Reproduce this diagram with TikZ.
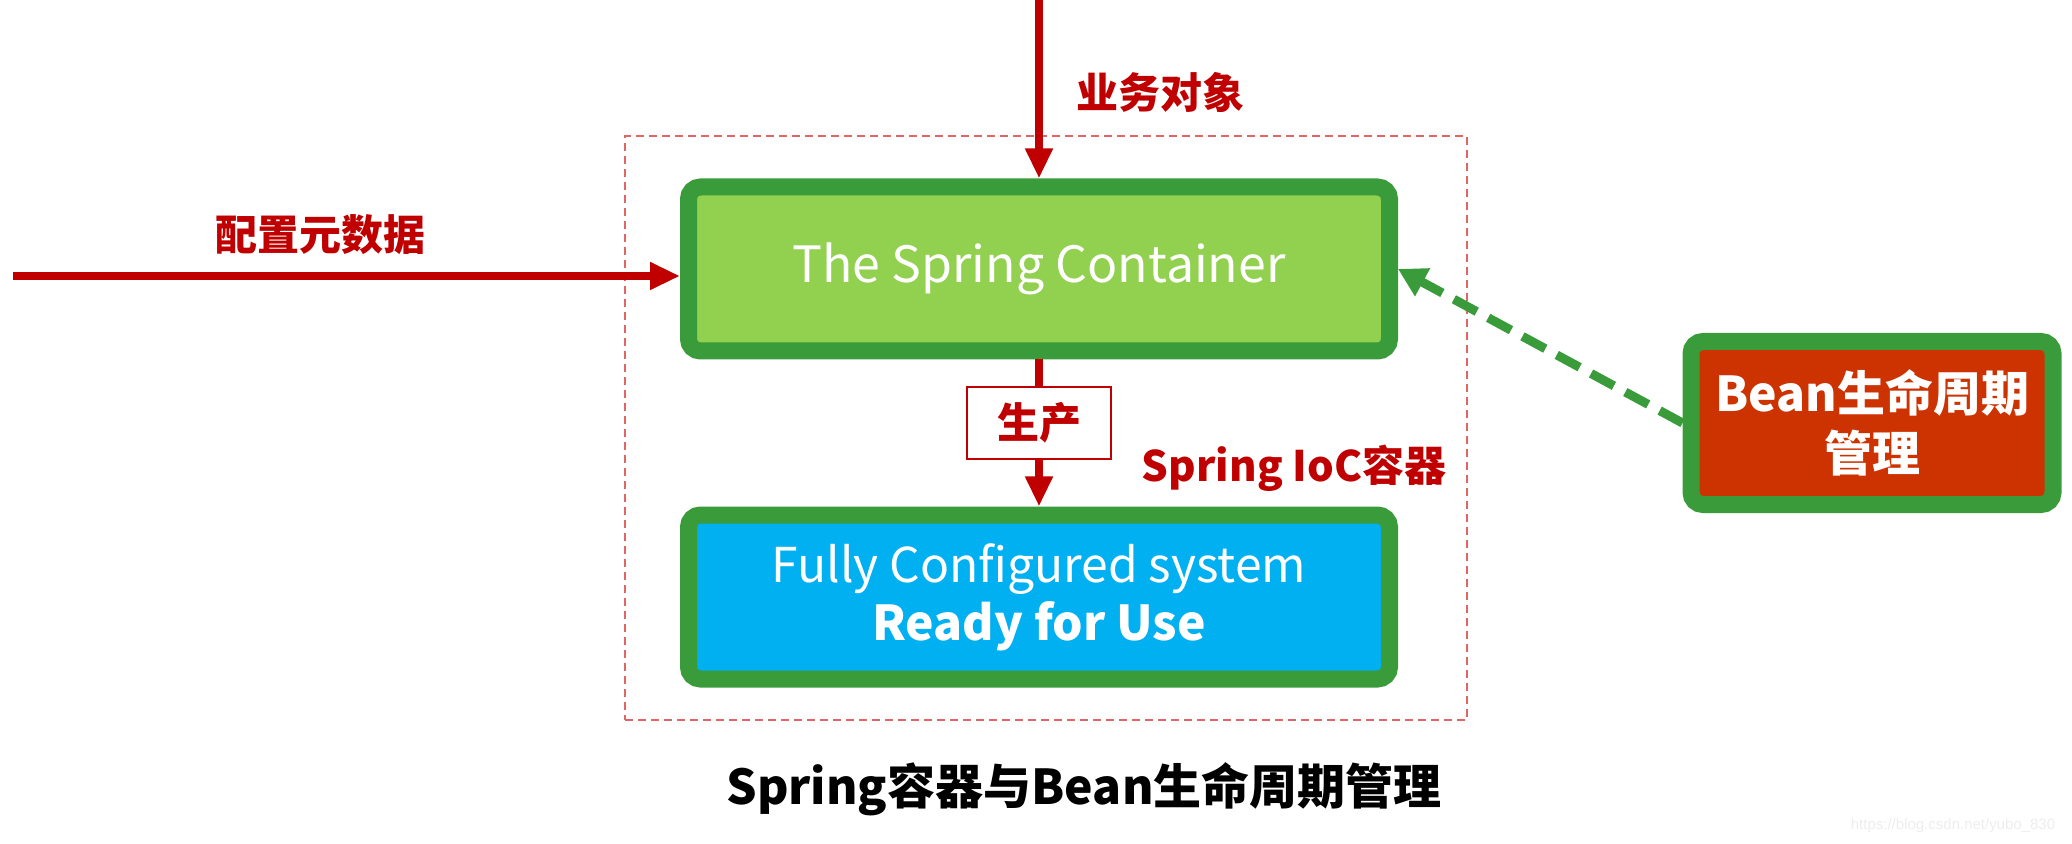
\documentclass[tikz,border=0pt]{standalone}
\usepackage{fontspec}
\setmainfont{Noto Sans CJK SC}
\newfontfamily\urlfont{Liberation Sans}
\usetikzlibrary{arrows.meta}

\definecolor{springred}{HTML}{C00000}
\definecolor{framered}{HTML}{E06666}
\definecolor{boxgreen}{HTML}{3A9B3A}
\definecolor{leafgreen}{HTML}{92D050}
\definecolor{skyblue}{HTML}{00B0F0}
\definecolor{beanred}{HTML}{CC3300}

\tikzset{
  greenbox/.style={draw=boxgreen, line width=8.5pt, rounded corners=6pt, text=white, align=center},
  redlabel/.style={text=springred, font=\bfseries\fontsize{21}{25}\selectfont},
  redline/.style={draw=springred, line width=3.8pt},
  redarrow/.style={redline, -{Triangle[length=15pt,width=13pt]}},
  greendash/.style={draw=boxgreen, line width=4.5pt, dash pattern=on 13pt off 6.5pt, -{Triangle[length=14pt,width=15pt]}}
}

\begin{document}
\begin{tikzpicture}[x=0.5pt,y=-0.5pt]
\useasboundingbox (0,0) rectangle (2072,844);

%IoC frame
\node[draw=framered, dash pattern=on 4pt off 2.5pt, line width=0.9pt, minimum width=421pt, minimum height=292pt] (frame) at (1046,428) {};

%Boxes
\node[greenbox, fill=leafgreen, minimum width=350.5pt, minimum height=82pt, font=\fontsize{25}{30}\selectfont] (container) at (1039,269) {The Spring Container};
\node[greenbox, fill=skyblue, minimum width=350.5pt, minimum height=82pt, font=\fontsize{24}{29}\selectfont] (ready) at (1039,597) {Fully Configured system\\\textbf{Ready for Use}};
\node[greenbox, fill=beanred, minimum width=181pt, minimum height=81.5pt, font=\bfseries\fontsize{24}{30}\selectfont] (bean) at (1872,423) {Bean生命周期\\管理};

%Arrows
\coordinate (top) at (1039,0);
\coordinate (meta) at (13,276);
\draw[redarrow] (top) -- (container.north);
\draw[redarrow] (meta) -- (meta -| container.west);
\node[draw=springred, fill=white, line width=0.8pt, minimum width=72pt, minimum height=36pt, redlabel] (produce) at (1039,423) {生产};
\draw[redline] (container.south) -- (produce.north);
\draw[redarrow] (produce.south) -- (ready.north);
\draw[greendash] (bean.west) -- (container.east);

%Labels
\node[redlabel] (objects) at (1160,92) {业务对象};
\node[redlabel] (metadata) at (320,235) {配置元数据};
\node[redlabel] (ioc) at (1294,468) {Spring IoC容器};
\node[font=\bfseries\fontsize{24}{29}\selectfont] (title) at (1084,789) {Spring容器与Bean生命周期管理};
\node[text=black!7, font=\urlfont\fontsize{7.5}{9}\selectfont] (url) at (1953,826) {https://blog.csdn.net/yubo\_830};

\end{tikzpicture}
\end{document}
